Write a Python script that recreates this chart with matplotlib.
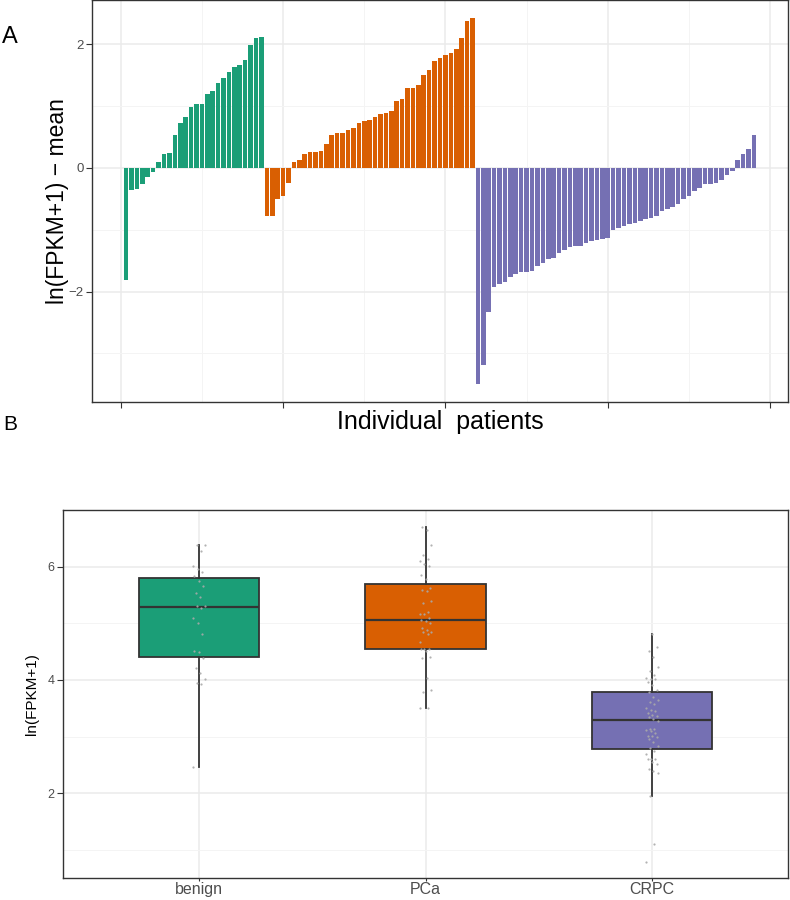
import numpy as np
import matplotlib
matplotlib.use("Agg")
import matplotlib.pyplot as plt
from matplotlib.ticker import FixedLocator, NullFormatter

plt.rcParams['font.family'] = ['Liberation Sans', 'DejaVu Sans']

# ---- data ----
groups = ["benign", "PCa", "CRPC"]
colors = ["#1B9E77", "#D95F02", "#7570B3"]

benign_dev = [-1.82, -0.35, -0.34, -0.26, -0.15, -0.07, 0.10, 0.22, 0.24, 0.53,
              0.72, 0.82, 0.99, 1.03, 1.03, 1.19, 1.25, 1.38, 1.46, 1.55,
              1.63, 1.67, 1.74, 1.99, 2.10, 2.11]
pca_dev = [-0.78, -0.78, -0.50, -0.45, -0.24, 0.10, 0.12, 0.23, 0.26, 0.26,
           0.27, 0.39, 0.54, 0.56, 0.57, 0.61, 0.64, 0.73, 0.76, 0.77,
           0.82, 0.88, 0.89, 0.92, 1.08, 1.12, 1.29, 1.30, 1.34, 1.50,
           1.58, 1.73, 1.77, 1.82, 1.86, 1.92, 2.10, 2.37, 2.42]
crpc_dev = [-3.49, -3.18, -2.33, -1.92, -1.88, -1.85, -1.77, -1.72, -1.68, -1.68,
            -1.67, -1.59, -1.54, -1.48, -1.45, -1.37, -1.33, -1.28, -1.27, -1.26,
            -1.22, -1.18, -1.16, -1.15, -1.14, -1.00, -0.97, -0.94, -0.91, -0.89,
            -0.86, -0.83, -0.81, -0.78, -0.70, -0.66, -0.64, -0.58, -0.50, -0.46,
            -0.37, -0.32, -0.26, -0.26, -0.25, -0.19, -0.12, -0.05, 0.13, 0.23,
            0.31, 0.53]
overall_mean = 4.28

devs = [benign_dev, pca_dev, crpc_dev]

fig = plt.figure(figsize=(7.9, 9.0), dpi=100)

grid_major = "#EBEBEB"
grid_minor = "#F4F4F4"
tick_col = "#4D4D4D"
spine_col = "#333333"

# ---- panel A ----
axA = fig.add_axes([92/790, 1 - 402/900, (788-92)/790, 402/900])
start = 1
for d, c in zip(devs, colors):
    xs = np.arange(start, start + len(d))
    axA.bar(xs, d, width=0.85, color=c, edgecolor='none', zorder=3)
    start += len(d)
axA.margins(x=0.05, y=0.05)
axA.set_xlim(-5.3, 123.3)
axA.xaxis.set_major_locator(FixedLocator([0, 30, 60, 90, 120]))
axA.xaxis.set_minor_locator(FixedLocator([15, 45, 75, 105]))
axA.xaxis.set_major_formatter(NullFormatter())
axA.yaxis.set_major_locator(FixedLocator([-2, 0, 2]))
axA.yaxis.set_minor_locator(FixedLocator([-3, -1, 1]))
axA.set_yticklabels(["\u22122", "0", "2"])
axA.grid(True, which='major', color=grid_major, lw=1.1, zorder=0)
axA.grid(True, which='minor', color=grid_minor, lw=0.7, zorder=0)
axA.tick_params(which='minor', length=0)
axA.tick_params(which='major', length=4, width=0.8, color=spine_col,
                labelsize=9.5, labelcolor=tick_col, pad=2)
for s in axA.spines.values():
    s.set_color(spine_col)
    s.set_linewidth(1.0)
axA.set_ylabel("ln(FPKM+1) \u2212 mean", fontsize=16.5, labelpad=0)
axA.set_xlabel("Individual  patients", fontsize=18, labelpad=0)
axA.set_axisbelow(True)

# ---- panel B ----
axB = fig.add_axes([63/790, 1 - 878/900, (788-63)/790, (878-510)/900])
vals = [np.array(d) + overall_mean for d in devs]
bp = axB.boxplot(vals, positions=[1, 2, 3], widths=0.53, patch_artist=True,
                 showfliers=False, whis=1.5, zorder=3,
                 medianprops=dict(color="#333333", lw=1.6),
                 whiskerprops=dict(color="#333333", lw=1.3),
                 capprops=dict(lw=0),
                 boxprops=dict(edgecolor="#333333", lw=1.3))
for patch, c in zip(bp['boxes'], colors):
    patch.set_facecolor(c)
for i, v in enumerate(vals):
    offs = np.array([((k * 7) % 11 - 5) / 5.0 * 0.025 for k in range(len(v))])
    axB.plot(np.full(len(v), i + 1) + offs, v, 'o', ms=1.6, color="#AAAAAA",
             mec='none', alpha=0.9, zorder=4)
axB.set_xlim(0.4, 3.6)
axB.set_ylim(0.505, 7.0)
axB.set_xticks([1, 2, 3])
axB.set_xticklabels(groups)
axB.yaxis.set_major_locator(FixedLocator([2, 4, 6]))
axB.yaxis.set_minor_locator(FixedLocator([1, 3, 5]))
axB.grid(True, which='major', color=grid_major, lw=1.1, zorder=0)
axB.grid(True, which='minor', color=grid_minor, lw=0.7, zorder=0)
axB.tick_params(which='minor', length=0)
axB.tick_params(axis='y', which='major', length=4, width=0.8, color=spine_col,
                labelsize=9, labelcolor=tick_col, pad=2)
axB.tick_params(axis='x', which='major', length=2.5, width=0.8, color=spine_col,
                labelsize=11.5, labelcolor=tick_col, pad=0.5)
for s in axB.spines.values():
    s.set_color(spine_col)
    s.set_linewidth(1.0)
axB.set_ylabel("ln(FPKM+1)", fontsize=11, labelpad=6)
axB.set_axisbelow(True)

fig.text(2/790, 1 - 37/900, "A", fontsize=17, va='center', ha='left')
fig.text(3/790, 1 - 425/900, "B", fontsize=15, va='center', ha='left')

fig.savefig("out.png", dpi=100)
